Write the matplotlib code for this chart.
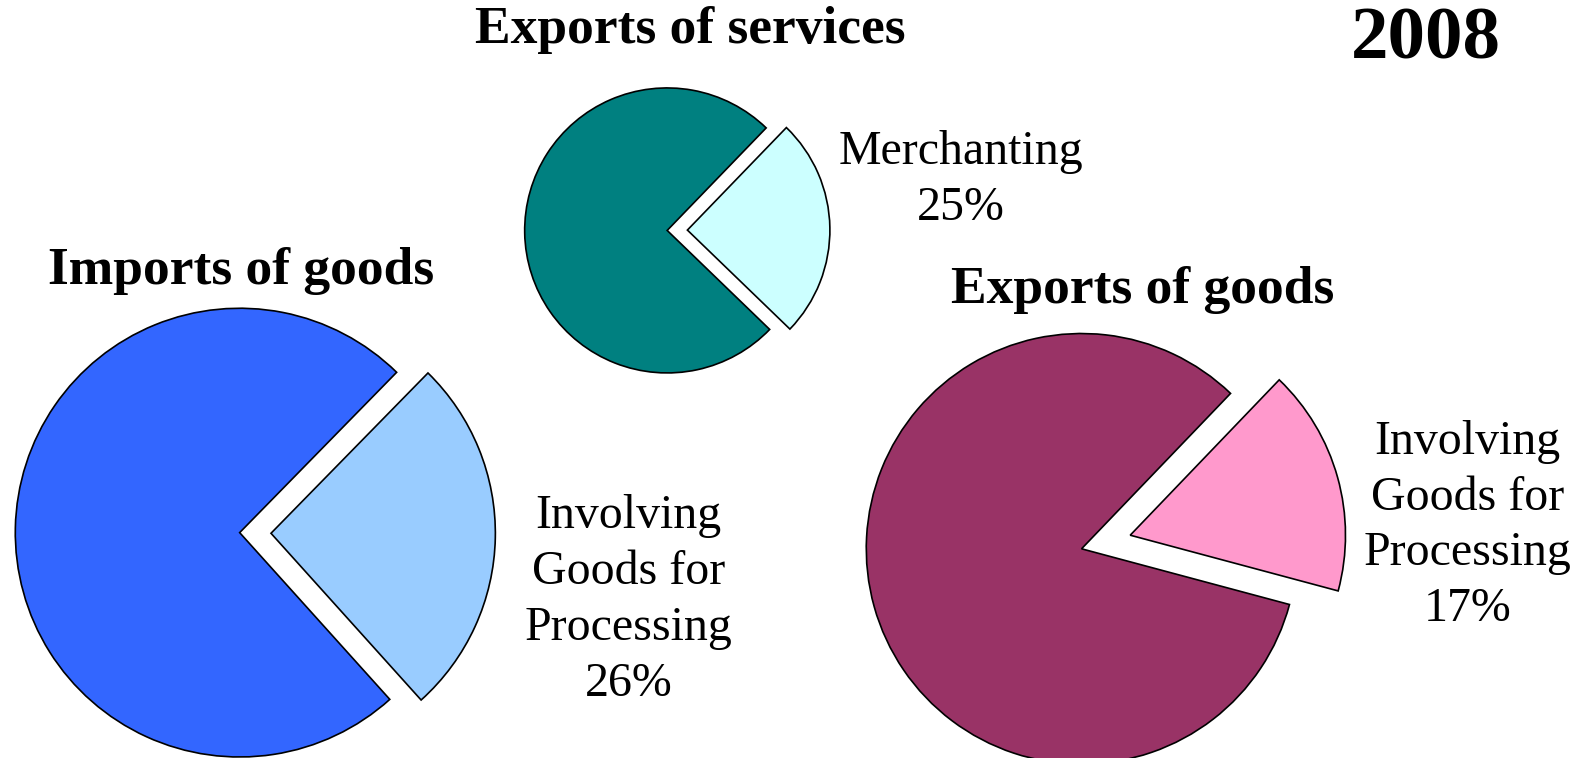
import numpy as np
import matplotlib.pyplot as plt

plt.rcParams['font.family'] = ['Liberation Serif', 'DejaVu Serif']

# --- datos ---
titulos = ['Exports of services', 'Imports of goods', 'Exports of goods']
etiquetas = ['Merchanting', 'Involving\nGoods for\nProcessing', 'Involving\nGoods for\nProcessing']
porcentajes = [25, 26, 17]
anio = '2008'

col_grande = ['#008080', '#3366FF', '#993366']
col_chico = ['#CCFFFF', '#99CCFF', '#FF99CC']

# --- layout (pixeles de la imagen, y hacia abajo) ---
W, H = 1568, 750
centros = [(660, 228), (237, 527), (1070, 543)]
radios = [141, 222, 213]
separar = [20, 31, 50]  # en pixeles, pie no lo escala con el radio
inicio = [-44, -48, -15]
pos_titulo = [(683, 30), (238, 268), (1130, 287)]
pos_etiqueta = [(951, 178), (622, 594), (1452, 520)]

fig = plt.figure(figsize=(15.85, 7.58), dpi=100)
ax = fig.add_axes([0, 0, 1, 1])

for i in range(3):
    cx, cy = centros[i]
    p = porcentajes[i]
    ax.pie([p, 100 - p], colors=[col_chico[i], col_grande[i]],
           explode=[separar[i], 0], startangle=inicio[i], counterclock=True,
           center=(cx, H - cy), radius=radios[i],
           wedgeprops=dict(edgecolor='black', linewidth=1.2), frame=True)
    tx, ty = pos_titulo[i]
    ax.text(tx, H - ty, titulos[i], fontsize=38.5, fontweight='bold',
            ha='center', va='center')
    lx, ly = pos_etiqueta[i]
    ax.text(lx, H - ly, etiquetas[i] + '\n' + str(p) + '%', fontsize=34.5,
            ha='center', va='center', linespacing=1.35)

ax.set_xlim(0, W)
ax.set_ylim(0, H)
ax.set_aspect('equal')
ax.axis('off')
ax.text(1411, H - 40, anio, fontsize=54, fontweight='bold', ha='center', va='center')

fig.savefig('out.png', dpi=100)
